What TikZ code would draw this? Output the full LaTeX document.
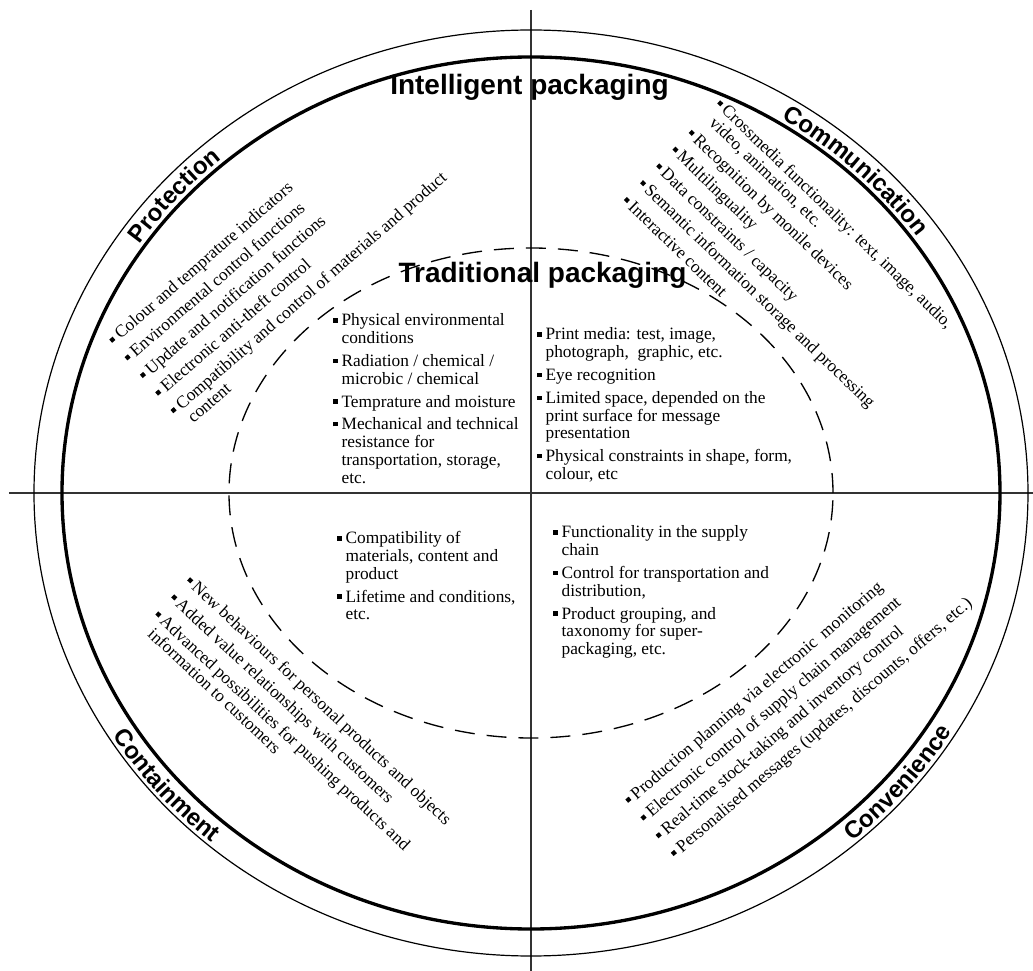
\documentclass[tikz,border=0pt]{standalone}
\usepackage{fontspec}
\setmainfont{Liberation Serif}
\newfontfamily\hfont{Liberation Sans}
\usetikzlibrary{decorations.text}
\newcommand\sqb{\rule[0.2em]{0.25em}{0.25em}}
\newcommand\lst[2][3.8pt]{{\fontsize{13}{13.3}\selectfont\renewcommand\arraystretch{1}\def\ig{\\[#1]}\begin{tabular}[t]{@{}l@{\hspace{3pt}}l@{}}#2\end{tabular}}}
\newcommand\titlefmt{\hfont\bfseries\fontsize{18}{18}\selectfont}
\tikzset{
  blk/.style={inner sep=0pt, anchor=base west},
  head/.style={inner sep=0pt, anchor=base, font=\hfont\bfseries\fontsize{21}{23}\selectfont},
  axis/.style={line width=1pt, black!80},
  thinring/.style={line width=0.9pt},
  thickring/.style={line width=2.5pt},
  dashring/.style={line width=1pt, dash pattern=on 15pt off 9pt},
  arctitle/.style={decorate, decoration={text along path, text align=center, text={|\titlefmt|#1}}}
}
\begin{document}
\begin{tikzpicture}[x=0.75pt,y=0.75pt]
\useasboundingbox (-531,-478) rectangle (502,493);
% axes
\coordinate (L) at (-522,0);
\coordinate (R) at (502,0);
\coordinate (T) at (0,483);
\coordinate (B) at (0,-478);
\draw[axis] (L) -- (R);
\draw[axis] (T) -- (B);
% rings
\draw[thinring] (0,0) ellipse [x radius=497, y radius=463];
\draw[thickring] (0,0) ellipse [x radius=469, y radius=436];
\draw[dashring] (0,0) ellipse [x radius=302, y radius=245];
% headings
\node[head] (ip) at (-1.5,398) {Intelligent packaging};
\node[head] (tp) at (11.5,210) {Traditional packaging};
% arc titles
\path[arctitle=Protection] (163:474 and 441) arc[start angle=163, end angle=114, x radius=474, y radius=441];
\path[arctitle=Communication] (71:474 and 441) arc[start angle=71, end angle=22, x radius=474, y radius=441];
\path[arctitle=Containment] (196:493 and 459) arc[start angle=196, end angle=245, x radius=493, y radius=459];
\path[arctitle=Convenience] (295:493 and 459) arc[start angle=295, end angle=345, x radius=493, y radius=459];
% centre lists
\node[blk] (tl) at (-198,167) {\lst{\sqb & Physical environmental\\ & conditions\ig
\sqb & Radiation / chemical /\\ & microbic / chemical\ig
\sqb & Temprature and moisture\ig
\sqb & Mechanical and technical\\ & resistance for\\ & transportation, storage,\\ & etc.}};
\node[blk] (tr) at (6,153) {\lst{\sqb & Print media: test, image,\\ & photograph,\ \ graphic, etc.\ig
\sqb & Eye recognition\ig
\sqb & Limited space, depended on the\\ & print surface for message\\ & presentation\ig
\sqb & Physical constraints in shape, form,\\ & colour, etc}};
\node[blk] (bl) at (-194,-51) {\lst{\sqb & Compatibility of\\ & materials, content and\\ & product\ig
\sqb & Lifetime and conditions,\\ & etc.}};
\node[blk] (br) at (22,-45) {\lst{\sqb & Functionality in the supply\\ & chain\ig
\sqb & Control for transportation and\\ & distribution,\ig
\sqb & Product grouping, and\\ & taxonomy for super-\\ & packaging, etc.}};
% rotated lists
\node[blk, rotate=41] (prot) at (-416.8,147.4) {\lst[4.2pt]{\sqb & Colour and temprature indicators\ig
\sqb & Environmental control functions\ig
\sqb & Update and notification functions\ig
\sqb & Electronic anti-theft control\ig
\sqb & Compatibility and control of materials and product\\ & content}};
\node[blk, rotate=-44] (comm) at (183.6,387.3) {\lst[4.2pt]{\sqb & Crossmedia functionality: text, image, audio,\\ & video, animation, etc.\ig
\sqb & Recognition by monile devices\ig
\sqb & Multilinguality\ig
\sqb & Data constraints / capacity\ig
\sqb & Semantic information storage and processing\ig
\sqb & Interactive content}};
\node[blk, rotate=-43] (cont) at (-346.4,-89.8) {\lst[4.2pt]{\sqb & New behaviours for personal products and objects\ig
\sqb & Added value relationships with customers\ig
\sqb & Advanced possibilities for pushing products and\\ & information to customers}};
\node[blk, rotate=40.5] (conv) at (99.2,-312.6) {\lst[4.2pt]{\sqb & Production planning via electronic\ \ monitoring\ig
\sqb & Electronic control of supply chain management\ig
\sqb & Real-time stock-taking and inventory control\ig
\sqb & Personalised messages (updates, discounts, offers, etc.)}};
\end{tikzpicture}
\end{document}
